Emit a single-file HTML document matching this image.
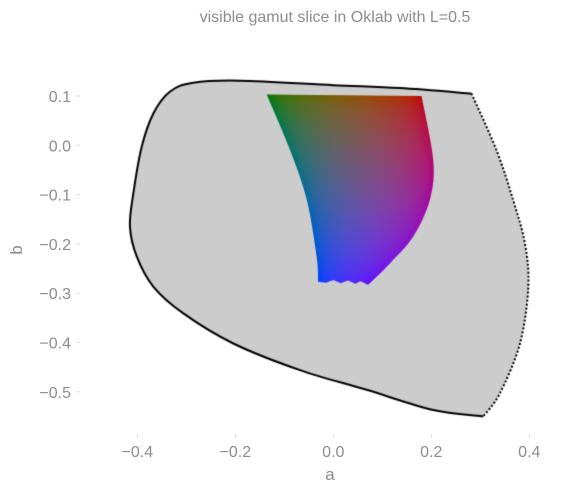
<!DOCTYPE html>
<html><head><meta charset="utf-8"><style>
html,body{margin:0;padding:0;background:#fff;}
#wrap{position:relative;width:587px;height:493px;overflow:hidden;}
canvas,svg{position:absolute;left:0;top:0;}
text{font-family:"Liberation Sans",sans-serif;fill:#8c8c8c;}
</style></head><body>
<div id="wrap">
<canvas id="cv" width="587" height="493"></canvas>
<svg id="sv" width="587" height="493">
<text x="335" y="22" font-size="16" text-anchor="middle">visible gamut slice in Oklab with L=0.5</text>
<text x="330" y="480" font-size="17" text-anchor="middle">a</text>
<text x="22" y="250" font-size="17" text-anchor="middle" transform="rotate(-90 22 250)">b</text>
<g id="ticks"></g>
</svg>
</div>
<script>
// visible gamut outline (solid part), a,b
const gamutA=[0.306,0.204,0.068,-0.068,-0.204,-0.306,-0.367,-0.401,-0.415,-0.408,-0.391,-0.367,-0.333,-0.286,-0.190,0.0,0.136,0.282];
const gamutB=[-0.550,-0.537,-0.496,-0.456,-0.402,-0.341,-0.287,-0.226,-0.165,-0.097,-0.003,0.065,0.109,0.127,0.131,0.122,0.116,0.105];
// dotted closing edge
const edgeA=[0.282,0.333,0.367,0.391,0.398,0.381,0.340,0.306];
const edgeB=[0.105,-0.010,-0.111,-0.199,-0.287,-0.402,-0.503,-0.550];
// sRGB gamut region at L=0.5
const srgbA=[-0.136,0.180,0.204,0.197,0.163,0.116,0.071,0.055,0.045,0.030,0.015,0.0,-0.015,-0.031,-0.034,-0.054,-0.088];
const srgbB=[0.103,0.100,-0.030,-0.111,-0.185,-0.239,-0.283,-0.276,-0.281,-0.274,-0.280,-0.273,-0.279,-0.277,-0.226,-0.111,-0.010];
const xTicks=[-0.4,-0.2,0.0,0.2,0.4];
const yTicks=[0.1,0.0,-0.1,-0.2,-0.3,-0.4,-0.5];
const L=0.5;

const X=a=>333.3+a*490;
const Y=b=>145.3-b*493;

const cv=document.getElementById('cv');
const ctx=cv.getContext('2d');
// Catmull-Rom smoothing through points P (pixel coords), continuing current path
function smooth(P,move){
 if(move)ctx.moveTo(P[0][0],P[0][1]);else ctx.lineTo(P[0][0],P[0][1]);
 for(let i=0;i<P.length-1;i++){
  const p0=P[Math.max(0,i-1)],p1=P[i],p2=P[i+1],p3=P[Math.min(P.length-1,i+2)];
  ctx.bezierCurveTo(p1[0]+(p2[0]-p0[0])/6,p1[1]+(p2[1]-p0[1])/6,p2[0]-(p3[0]-p1[0])/6,p2[1]-(p3[1]-p1[1])/6,p2[0],p2[1]);
 }
}
const pts=(A,B,idx)=>idx.map(i=>[X(A[i]),Y(B[i])]);
const rng=(s,e)=>{const r=[];for(let i=s;i<=e;i++)r.push(i);return r;};
const gP=pts(gamutA,gamutB,rng(0,gamutA.length-1));
const eP=pts(edgeA,edgeB,rng(0,edgeA.length-1));
// gray fill
ctx.beginPath();smooth(gP,true);smooth(eP,false);ctx.closePath();ctx.fillStyle='#cccccc';ctx.fill();
// colored region
function ok2rgb(a,b){
 const l_=L+0.3963377774*a+0.2158037573*b, m_=L-0.1055613458*a-0.0638541728*b, s_=L-0.0894841775*a-1.2914855480*b;
 const l=l_**3,m=m_**3,s=s_**3;
 const r=4.0767416621*l-3.3077115913*m+0.2309699292*s;
 const g=-1.2684380046*l+2.6097574011*m-0.3413193965*s;
 const bb=-0.0041960863*l-0.7034186147*m+1.7076147010*s;
 const f=v=>{v=Math.max(0,Math.min(1,v));return Math.round(255*(v<=0.0031308?12.92*v:1.055*Math.pow(v,1/2.4)-0.055));};
 return [f(r),f(g),f(bb)];
}
const off=document.createElement('canvas');off.width=587;off.height=493;
const oc=off.getContext('2d');const img=oc.createImageData(587,493);
for(let y=80;y<300;y++)for(let x=250;x<450;x++){
 const c=ok2rgb((x-333.3)/490,(145.3-y)/493);const k=(y*587+x)*4;
 img.data[k]=c[0];img.data[k+1]=c[1];img.data[k+2]=c[2];img.data[k+3]=255;}
oc.putImageData(img,0,0);
ctx.save();
ctx.beginPath();
const n=srgbA.length;
ctx.moveTo(X(srgbA[0]),Y(srgbB[0]));
smooth(pts(srgbA,srgbB,rng(1,6)),false);
for(let i=7;i<=13;i++)ctx.lineTo(X(srgbA[i]),Y(srgbB[i]));
smooth(pts(srgbA,srgbB,rng(13,n-1).concat([0])),false);
ctx.closePath();ctx.clip();ctx.drawImage(off,0,0);ctx.restore();
// outline
ctx.lineWidth=2;ctx.strokeStyle='#000';ctx.lineJoin='round';
ctx.beginPath();smooth(gP,true);ctx.stroke();
ctx.setLineDash([2,2]);ctx.beginPath();smooth(eP,true);ctx.stroke();ctx.setLineDash([]);

const NS='http://www.w3.org/2000/svg';const tg=document.getElementById('ticks');
const fmt=v=>(v<0?'\u2212':'')+Math.abs(v).toFixed(1);
xTicks.forEach(v=>{
 const t=document.createElementNS(NS,'text');
 
 
 t.setAttribute('x',X(v));t.setAttribute('y',457);t.setAttribute('font-size','16');t.setAttribute('text-anchor','middle');
 t.textContent=fmt(v);tg.appendChild(t);
 const m=document.createElementNS(NS,'line');
 
 
 m.setAttribute('x1',X(v));m.setAttribute('x2',X(v));m.setAttribute('y1',434);m.setAttribute('y2',438);m.setAttribute('stroke','#ddd');
 tg.appendChild(m);
});
yTicks.forEach(v=>{
 const t=document.createElementNS(NS,'text');
 
 
 t.setAttribute('x',71);t.setAttribute('y',Y(v)+6);t.setAttribute('font-size','16');t.setAttribute('text-anchor','end');
 t.textContent=fmt(v);tg.appendChild(t);
 const m=document.createElementNS(NS,'line');
 
 
 m.setAttribute('x1',76);m.setAttribute('x2',80);m.setAttribute('y1',Y(v));m.setAttribute('y2',Y(v));m.setAttribute('stroke','#ddd');
 tg.appendChild(m);
});
</script>
</body></html>
